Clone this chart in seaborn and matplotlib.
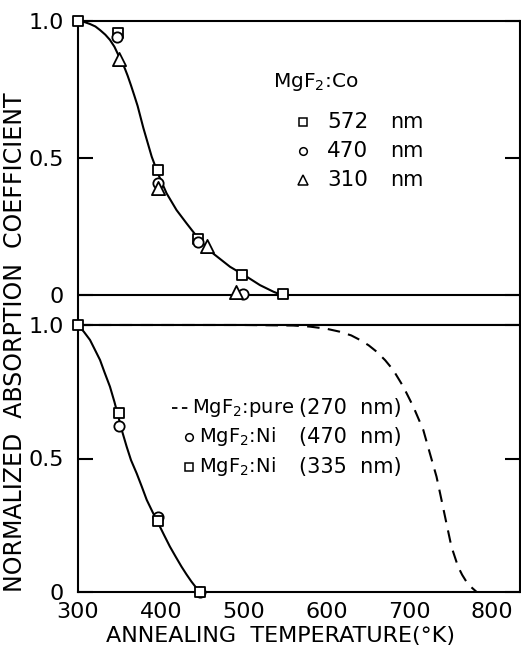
import matplotlib
matplotlib.use("Agg")
import matplotlib.pyplot as plt
import seaborn as sns

# ---------------- data ----------------
# Top panel: MgF2:Co
co_572_T = [300, 348, 397, 445, 498, 548]
co_572_v = [1.0, 0.955, 0.456, 0.204, 0.072, 0.005]
co_470_T = [347, 397, 445, 499]
co_470_v = [0.94, 0.41, 0.195, 0.005]
co_310_T = [350, 397, 456, 491]
co_310_v = [0.86, 0.39, 0.18, 0.01]
co_curve_T = [300, 308, 314.5, 321, 326.6, 333, 338.6, 344, 348.7, 353, 356.8, 360, 364,
              368, 372, 378.9, 389, 397, 407, 419, 431, 447, 463, 483.6, 503.7, 519.8,
              536, 546]
co_curve_v = [1.0, 0.996, 0.989, 0.980, 0.967, 0.950, 0.931, 0.906, 0.876, 0.852, 0.825,
              0.800, 0.765, 0.728, 0.690, 0.610, 0.505, 0.440, 0.371, 0.31, 0.262, 0.20,
              0.152, 0.103, 0.067, 0.036, 0.012, 0.0]

# Bottom panel: MgF2:Ni and MgF2:pure
ni_470_T = [349, 397, 447]
ni_470_v = [0.62, 0.282, 0.0]
ni_335_T = [300, 349, 397, 447]
ni_335_v = [1.0, 0.67, 0.266, 0.0]
ni_curve_T = [300, 307, 314.5, 320, 326.6, 332, 338.6, 344, 348.7, 353, 358.8, 364, 370.9,
              377, 383, 390, 397, 404, 411, 418, 425, 431, 437, 442, 447]
ni_curve_v = [1.0, 0.975, 0.944, 0.910, 0.869, 0.823, 0.769, 0.712, 0.657, 0.605, 0.544,
              0.494, 0.444, 0.395, 0.345, 0.300, 0.257, 0.213, 0.17, 0.132, 0.095, 0.066,
              0.039, 0.019, 0.0]
pure_T = [300, 500, 560, 580, 600, 616, 630, 640.6, 651, 660.7, 671, 680.8, 692.9, 705,
          717, 725, 733, 739, 745, 751, 759, 764, 769, 775, 781.5]
pure_v = [1.0, 1.0, 0.998, 0.994, 0.986, 0.975, 0.961, 0.944, 0.924, 0.90, 0.868, 0.831,
          0.769, 0.694, 0.607, 0.519, 0.432, 0.345, 0.257, 0.17, 0.095, 0.064, 0.039,
          0.018, 0.0]

x_ticks = [300, 400, 500, 600, 700, 800]
y_ticks = [0, 0.5, 1.0]
y_ticklabels = ["0", "0.5", "1.0"]

# ---------------- style ----------------
sns.set_style("white")
plt.rcParams['font.family'] = ['DejaVu Sans']
plt.rcParams['mathtext.default'] = 'regular'
for k in ['text.color', 'axes.labelcolor', 'xtick.color', 'ytick.color']:
    plt.rcParams[k] = 'black'

W, H = 521, 649
fig = plt.figure(figsize=(W / 100, H / 100), dpi=100)

def fx(px):
    return px / W

def fy(py):
    return 1 - py / H

L, R = 78, 520
ax1 = fig.add_axes([fx(L), fy(325), fx(R - L), fy(21) - fy(325)])
ax2 = fig.add_axes([fx(L), fy(592), fx(R - L), fy(325) - fy(592)])

XMAX = 300 + (R - L) / 0.828
for ax in (ax1, ax2):
    ax.set_xlim(300, XMAX)
    for s in ax.spines.values():
        s.set_color('black')
        s.set_linewidth(1.5)
        s.set_visible(True)
    ax.set_yticks(y_ticks)
    ax.set_yticklabels(y_ticklabels)
    ax.tick_params(axis='y', direction='in', length=11, width=1.5, left=True, right=True,
                   labelsize=16, pad=10)
    ax.set_xlabel("")
    ax.set_ylabel("")

ax1.set_ylim(-0.1095, 1.0)
ax2.set_ylim(0, 1.0)
ax1.set_xticks([])
ax2.set_xticks(x_ticks)
ax2.set_xticklabels([str(t) for t in x_ticks])
ax2.tick_params(axis='x', length=0, labelsize=16, pad=7)

lw = 1.5
# top panel zero line
ax1.axhline(0, color='black', lw=lw)

# curves
sns.lineplot(x=co_curve_T, y=co_curve_v, ax=ax1, color='black', lw=lw, sort=False,
             estimator=None, clip_on=False)
sns.lineplot(x=ni_curve_T, y=ni_curve_v, ax=ax2, color='black', lw=lw, sort=False,
             estimator=None, clip_on=False)
sns.lineplot(x=pure_T, y=pure_v, ax=ax2, color='black', lw=lw, sort=False,
             estimator=None, clip_on=False, dashes=False, linestyle=(0, (6, 4)))

mk = dict(facecolor='white', edgecolor='black', linewidth=1.3, zorder=5, clip_on=False,
          legend=False)
sns.scatterplot(x=co_572_T, y=co_572_v, ax=ax1, marker='s', s=55, **mk)
sns.scatterplot(x=co_470_T, y=co_470_v, ax=ax1, marker='o', s=55, **mk)
sns.scatterplot(x=co_310_T, y=co_310_v, ax=ax1, marker='^', s=90, **mk)
sns.scatterplot(x=ni_470_T, y=ni_470_v, ax=ax2, marker='o', s=55, **mk)
sns.scatterplot(x=ni_335_T, y=ni_335_v, ax=ax2, marker='s', s=55, **mk)

# ---------------- legends (manual, as in the original) ----------------
fig.text(fx(273), fy(82), "MgF$_2$:Co", fontsize=14.5, ha='left', va='center')
top_rows = [("s", "572", 122), ("o", "470", 151), ("^", "310", 180)]
for m, lab, py in top_rows:
    fig.lines.append(plt.Line2D([fx(303)], [fy(py)], marker=m, markersize=5.5 if m != '^' else 7,
                                mfc='white', mec='black', mew=1.1, transform=fig.transFigure))
    fig.text(fx(327), fy(py), lab, fontsize=15.5, ha='left', va='center')
    fig.text(fx(390), fy(py), "nm", fontsize=15, ha='left', va='center')

# bottom legend
fig.lines.append(plt.Line2D([fx(172), fx(191)], [fy(408), fy(408)], color='black', lw=1.3,
                            linestyle=(0, (3, 2.5)), transform=fig.transFigure))
fig.text(fx(192), fy(408), "MgF$_2$:pure", fontsize=14, ha='left', va='center')
fig.text(fx(299), fy(408), "(270  nm)", fontsize=15, ha='left', va='center')
bot_rows = [("o", "MgF$_2$:Ni", "(470  nm)", 437), ("s", "MgF$_2$:Ni", "(335  nm)", 467)]
for m, name, lab, py in bot_rows:
    fig.lines.append(plt.Line2D([fx(189)], [fy(py)], marker=m, markersize=5.5,
                                mfc='white', mec='black', mew=1.1, transform=fig.transFigure))
    fig.text(fx(199), fy(py), name, fontsize=14, ha='left', va='center')
    fig.text(fx(299), fy(py), lab, fontsize=15, ha='left', va='center')

# axis labels
fig.text(fx(15), fy(342), "NORMALIZED  ABSORPTION  COEFFICIENT", rotation=90,
         fontsize=17, ha='center', va='center')
fig.text(fx(280), fy(636), "ANNEALING  TEMPERATURE(°K)", fontsize=16,
         ha='center', va='center')

fig.savefig("out.png", dpi=100)
